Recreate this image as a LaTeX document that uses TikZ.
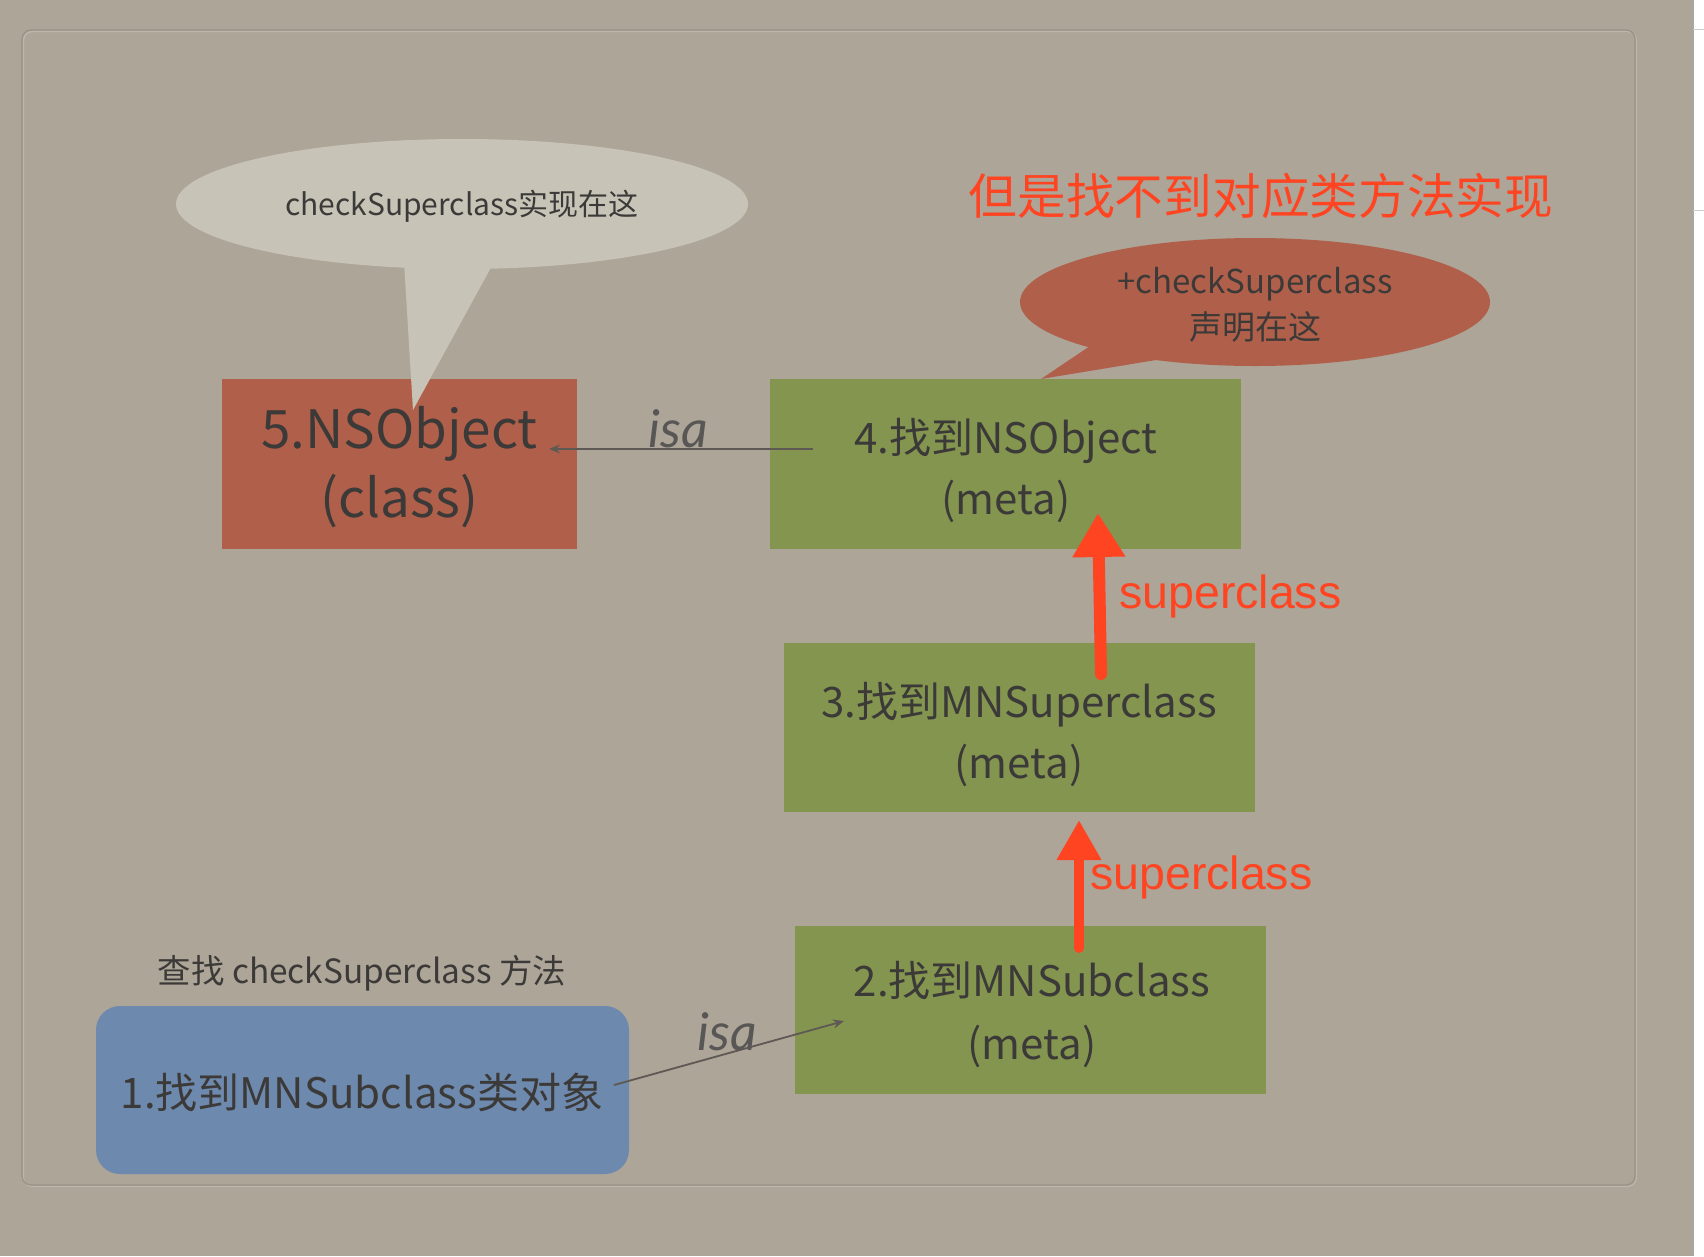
\documentclass[tikz,border=0pt]{standalone}
\usepackage{fontspec}
\setmainfont{Noto Sans CJK SC}
\newfontfamily\isafont{Lato}
\newfontfamily\redfont{Liberation Sans}
\usetikzlibrary{arrows.meta}
\definecolor{bg}{HTML}{ADA598}
\definecolor{framedark}{HTML}{9A9286}
\definecolor{framelight}{HTML}{BDB6AA}
\definecolor{bubblegray}{HTML}{C7C4B7}
\definecolor{rust}{HTML}{B0604A}
\definecolor{olive}{HTML}{849550}
\definecolor{steel}{HTML}{6D89AD}
\definecolor{hot}{HTML}{FF4422}
\definecolor{ink}{HTML}{3C3A38}
\definecolor{isagray}{HTML}{5E5954}
\tikzset{
  box/.style={fill=#1, inner sep=0pt, text=ink, align=center},
  boxfont/.style={font=\fontsize{42}{61}\selectfont},
  isaline/.style={draw=isagray, line width=1.8pt, -{Stealth[length=11pt,width=9pt]}},
  isalabel/.style={text=ink!85, font=\isafont\itshape\fontsize{52}{54}\selectfont, inner sep=0pt},
  superarrow/.style={draw=hot, line width=#1, line cap=round},
  superlabel/.style={text=hot, font=\redfont\fontsize{46.5}{50}\selectfont, inner sep=0pt, anchor=west},
}
\begin{document}
\begin{tikzpicture}[x=1pt,y=-1pt]
\useasboundingbox (0,0) rectangle (1704,1256);
\fill[bg] (0,0) rectangle (1704,1256);
% right white strip
\fill[white] (1693,0) rectangle (1704,1256);
\draw[gray!70, line width=1pt] (1693,0) -- (1693,1256);
\draw[gray!40, line width=1pt] (1693,29) -- (1704,29);
\draw[gray!40, line width=1pt] (1693,210) -- (1704,210);
% inner frame
\draw[framelight, line width=1.2pt, rounded corners=9pt] (23.5,31.5) rectangle (1636.5,1186.5);
\draw[framedark, line width=1.2pt, rounded corners=9pt] (22,30) rectangle (1635,1185);

% boxes
\node[box=rust, minimum width=355pt, minimum height=170pt] (n5) at (399.5,464) {};
\node[text=ink, align=center, font=\fontsize{53}{69}\selectfont] (t5) at (399.5,467) {5.NSObject\\(class)};
\node[box=olive, minimum width=471pt, minimum height=170pt] (n4) at (1005.5,464) {};
\node[text=ink, align=center, boxfont] (t4) at (1006,470) {4.找到NSObject\\(meta)};
\node[box=olive, minimum width=471pt, minimum height=169pt] (n3) at (1019.5,727.5) {};
\node[text=ink, align=center, boxfont] (t3) at (1019,734) {3.找到MNSuperclass\\(meta)};
\node[box=olive, minimum width=471pt, minimum height=168pt] (n2) at (1030.5,1010) {};
\node[text=ink, align=center, font=\fontsize{42}{63}\selectfont] (t2) at (1032,1014) {2.找到MNSubclass\\(meta)};
\node[box=steel, minimum width=533pt, minimum height=168pt, rounded corners=24pt] (n1) at (362.5,1090) {};
\node[text=ink, boxfont] (t1) at (362,1092) {1.找到MNSubclass类对象};

% gray speech bubble
\fill[bubblegray] (462,204) ellipse [x radius=286, y radius=65];
\fill[bubblegray] (404,262) -- (413,410) -- (494,262) -- cycle;
\node[text=ink, font=\fontsize{30}{32}\selectfont] (b1) at (462,206) {checkSuperclass实现在这};

% red speech bubble
\fill[rust] (1255,302) ellipse [x radius=235, y radius=64];
\fill[rust] (1090,346) -- (1041,379) -- (1156,360) -- cycle;
\node[text=ink, font=\fontsize{33}{46}\selectfont, align=center] (b2) at (1255,305) {+checkSuperclass\\声明在这};

% title
\node[text=hot, font=\fontsize{48.7}{50}\selectfont] (title) at (1261,196) {但是找不到对应类方法实现};

% label above box 1
\node[text=ink, font=\fontsize{33.4}{35}\selectfont] (q) at (362,973) {查找 checkSuperclass 方法};

% isa connectors
\coordinate (isaA) at (813,449);
\coordinate (isaB) at (549,449);
\draw[isaline] (isaA) -- (isaB);
\node[isalabel] (isa1) at (678,429) {isa};
\coordinate (isaC) at (614,1085);
\coordinate (isaD) at (844,1021);
\draw[isaline] (isaC) -- (isaD);
\node[isalabel] (isa2) at (727,1032) {isa};

% superclass arrows
\coordinate (s3) at (1101,674);
\coordinate (e4) at (1098,513);
\draw[superarrow=12pt, -{Triangle[length=44pt,width=50pt]}] (s3) -- (e4);
\node[superlabel] (sl1) at (1119,596) {superclass};
\coordinate (s2) at (1079,948);
\coordinate (e3) at (1079,820);
\draw[superarrow=10pt, -{Triangle[length=40pt,width=42pt]}] (s2) -- (e3);
\node[superlabel] (sl2) at (1090,877) {superclass};
\end{tikzpicture}
\end{document}
